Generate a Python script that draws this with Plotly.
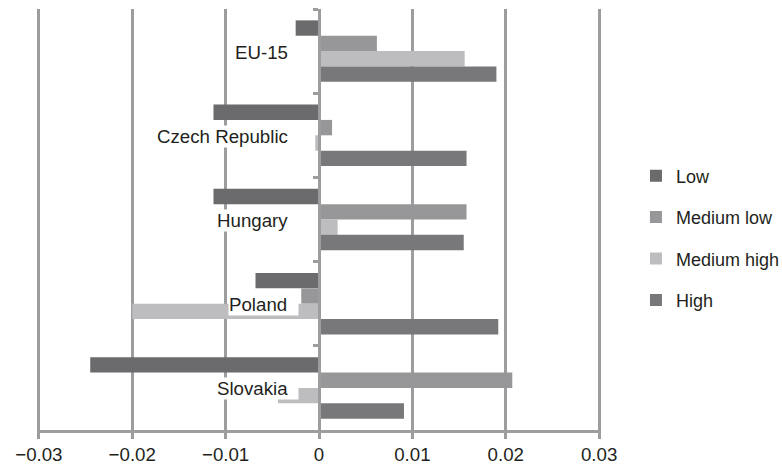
import plotly.graph_objects as go

# Change by technology-intensity group, per country
countries = ["EU-15", "Czech Republic", "Hungary", "Poland", "Slovakia"]
low = [-0.0025, -0.0113, -0.0113, -0.0068, -0.0245]
medium_low = [0.0062, 0.0014, 0.0158, -0.0019, 0.0207]
medium_high = [0.0156, -0.0004, 0.0020, -0.0200, -0.0044]
high = [0.0190, 0.0158, 0.0155, 0.0192, 0.0091]

series_names = ["Low", "Medium low", "Medium high", "High"]
series_values = [low, medium_low, medium_high, high]
series_colors = ["#6b6b6e", "#97979a", "#bdbdc0", "#78787b"]

x_ticks = [-0.03, -0.02, -0.01, 0, 0.01, 0.02, 0.03]


def tick_text(v):
    if v == 0:
        return "0"
    s = format(abs(v), ".2f")
    return ("\u2212" + s) if v < 0 else s


FONT = "Liberation Sans, Arial, sans-serif"
FS = 18.7
TEXT = "#231f20"
GRID = "#9d9d9f"

fig = go.Figure()
for name, vals, col in zip(series_names, series_values, series_colors):
    fig.add_trace(go.Bar(
        y=countries, x=vals, name=name, orientation="h",
        marker=dict(color=col, line=dict(width=0)),
        legendgroup=name,
    ))

# country names sit beside the zero line on white boxes
for c in countries:
    fig.add_annotation(
        x=-0.0021, y=c, xref="x", yref="y",
        text=c + "\u00a0\u00a0", showarrow=False,
        xanchor="right", yanchor="middle", yshift=-1,
        font=dict(family=FONT, size=FS, color=TEXT),
        bgcolor="white", borderpad=0,
    )

fig.update_layout(
    width=782, height=472,
    margin=dict(l=37, r=181, t=9, b=42, autoexpand=False),
    paper_bgcolor="white", plot_bgcolor="white",
    barmode="group", bargap=0.27, bargroupgap=0,
    font=dict(family=FONT, size=FS, color=TEXT),
    showlegend=True,
    legend=dict(
        x=1.062, xanchor="left", y=0.456, yanchor="middle",
        font=dict(family=FONT, size=18, color=TEXT),
        traceorder="grouped", tracegroupgap=15,
        itemwidth=30, bgcolor="rgba(0,0,0,0)",
    ),
    xaxis=dict(
        range=[-0.0302, 0.0302], tickvals=x_ticks,
        ticktext=[tick_text(v) for v in x_ticks],
        showgrid=True, gridcolor=GRID, gridwidth=2.6,
        zeroline=False,
        showline=True, linecolor=GRID, linewidth=3,
        ticks="outside", ticklen=6, tickwidth=3, tickcolor=GRID,
        tickfont=dict(family=FONT, size=FS, color=TEXT),
        fixedrange=True,
    ),
    yaxis=dict(
        autorange="reversed", categoryorder="array", categoryarray=countries,
        anchor="free", position=0.5,
        showline=True, linecolor=GRID, linewidth=3,
        ticks="outside", tickson="boundaries", ticklen=5, tickwidth=2.5, tickcolor=GRID,
        showticklabels=False, showgrid=False, zeroline=False,
        fixedrange=True,
    ),
)

fig.write_html("out.html")
